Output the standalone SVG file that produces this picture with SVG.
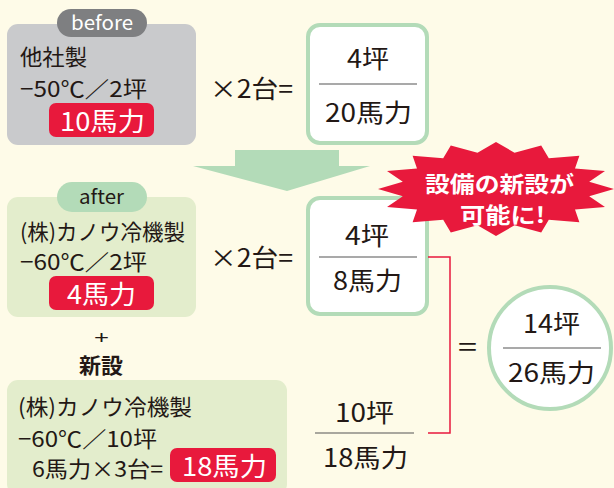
<svg xmlns="http://www.w3.org/2000/svg" width="614" height="488" viewBox="0 0 614 488">
<style>
text{font-family:"Noto Sans CJK JP","Noto Sans",sans-serif;fill:#231815}
.t{font-size:22px}
.m{font-size:25px}
.f{font-size:25px}
.w{fill:#ffffff}
.pill{fill:#E8193C}
.frame{fill:#ffffff;stroke:#B3DBB8;stroke-width:4}
.bar{stroke:#555555;stroke-width:1.2}
.lg{fill:#E3EDCC}
</style>
<rect width="614" height="488" fill="#FEFBE8"/>
<g id="before">
<rect x="7" y="24" width="189" height="121" rx="11" fill="#C9CACC"/>
<rect x="57" y="9" width="90" height="28" rx="14" fill="#7E7F81"/>
<text x="71" y="30" class="w" style="font-size:19px" textLength="62" lengthAdjust="spacingAndGlyphs">before</text>
<text x="20" y="65" class="t" textLength="67" lengthAdjust="spacingAndGlyphs">他社製</text>
<text x="20" y="97" class="t" textLength="127" lengthAdjust="spacingAndGlyphs">−50℃／2坪</text>
<rect x="49" y="103" width="105" height="34" rx="7" class="pill"/>
<text x="60" y="131" class="w" style="font-size:26px" textLength="85" lengthAdjust="spacingAndGlyphs">10馬力</text>
</g>
<g id="mult1"><text x="210" y="98" class="m" textLength="83" lengthAdjust="spacingAndGlyphs">×2台=</text></g>
<g id="frac1">
<rect x="308" y="25" width="119" height="118" rx="12" class="frame"/>
<text x="347" y="68" class="f" textLength="42" lengthAdjust="spacingAndGlyphs">4坪</text>
<line x1="319" y1="84" x2="417" y2="84" class="bar"/>
<text x="325" y="122" class="f" textLength="87" lengthAdjust="spacingAndGlyphs">20馬力</text>
</g>
<g id="arrow"><polygon points="235,150 339,150 339,166 370,166 287,191 193,166 235,166" fill="#B3DBB8"/></g>
<g id="after">
<rect x="7" y="197" width="189" height="120" rx="11" class="lg"/>
<rect x="57" y="182" width="90" height="30" rx="15" fill="#B3DBB8"/>
<text x="79" y="204" style="font-size:19px" textLength="45" lengthAdjust="spacingAndGlyphs">after</text>
<text x="20" y="240" class="t" textLength="165" lengthAdjust="spacingAndGlyphs">(株)カノウ冷機製</text>
<text x="20" y="270" class="t" textLength="127" lengthAdjust="spacingAndGlyphs">−60℃／2坪</text>
<rect x="49" y="276" width="105" height="34" rx="7" class="pill"/>
<text x="67" y="304" class="w" style="font-size:26px" textLength="69" lengthAdjust="spacingAndGlyphs">4馬力</text>
</g>
<g id="mult2"><text x="210" y="267" class="m" textLength="83" lengthAdjust="spacingAndGlyphs">×2台=</text></g>
<g id="frac2">
<rect x="308" y="198" width="119" height="116" rx="12" class="frame"/>
<text x="345" y="245" class="f" textLength="44" lengthAdjust="spacingAndGlyphs">4坪</text>
<line x1="319" y1="257" x2="417" y2="257" class="bar"/>
<text x="333" y="290" class="f" textLength="69" lengthAdjust="spacingAndGlyphs">8馬力</text>
</g>
<g id="burst">
<polygon fill="#E8193C" points="614,189 589.2,196.2 605,207 575,209.6 579.4,222.2 548.8,219.8 541.2,232.4 514.5,225.3 496,236 477.5,225.3 450.8,232.4 443.2,219.8 412.6,222.2 417,209.6 387,207 402.8,196.2 378,189 402.8,181.8 387,171 417,168.4 412.6,155.8 443.2,158.2 450.8,145.6 477.5,152.7 496,142 514.5,152.7 541.2,145.6 548.8,158.2 579.4,155.8 575,168.4 605,171 589.2,181.8"/>
<text x="425" y="191.5" class="w" style="font-size:21.5px;font-weight:bold" textLength="149" lengthAdjust="spacingAndGlyphs">設備の新設が</text>
<text x="460" y="222.5" class="w" style="font-size:21.5px;font-weight:bold" textLength="85" lengthAdjust="spacingAndGlyphs">可能に!</text>
</g>
<g id="plus">
<text x="94" y="344" style="font-family:'Liberation Sans',sans-serif;font-size:19px" textLength="15" lengthAdjust="spacingAndGlyphs">+</text>
<text x="79" y="373" style="font-size:21px;font-weight:bold" textLength="44" lengthAdjust="spacingAndGlyphs">新設</text>
</g>
<g id="new">
<rect x="7" y="380" width="280" height="115" rx="11" class="lg"/>
<text x="18" y="415" class="t" textLength="174" lengthAdjust="spacingAndGlyphs">(株)カノウ冷機製</text>
<text x="18" y="447" class="t" textLength="139" lengthAdjust="spacingAndGlyphs">−60℃／10坪</text>
<text x="32" y="477" class="t" textLength="131" lengthAdjust="spacingAndGlyphs">6馬力×3台=</text>
<rect x="170" y="448" width="106" height="34" rx="7" class="pill"/>
<text x="182" y="476" class="w" style="font-size:26px" textLength="85" lengthAdjust="spacingAndGlyphs">18馬力</text>
</g>
<g id="frac3">
<text x="335" y="422" class="f" textLength="59" lengthAdjust="spacingAndGlyphs">10坪</text>
<line x1="315" y1="433" x2="414" y2="433" class="bar"/>
<text x="323" y="467" class="f" textLength="85" lengthAdjust="spacingAndGlyphs">18馬力</text>
</g>
<g id="connectors">
<path d="M428,257 H450 V433 H428" fill="none" stroke="#E8193C" stroke-width="1.5"/>
</g>
<g id="eq"><text x="458" y="356" style="font-size:25px" textLength="19" lengthAdjust="spacingAndGlyphs">=</text></g>
<g id="total">
<circle cx="550" cy="348" r="61" class="frame"/>
<text x="523" y="333" class="f" textLength="57" lengthAdjust="spacingAndGlyphs">14坪</text>
<line x1="503" y1="348" x2="601" y2="348" class="bar"/>
<text x="508" y="382" class="f" textLength="87" lengthAdjust="spacingAndGlyphs">26馬力</text>
</g>
</svg>
